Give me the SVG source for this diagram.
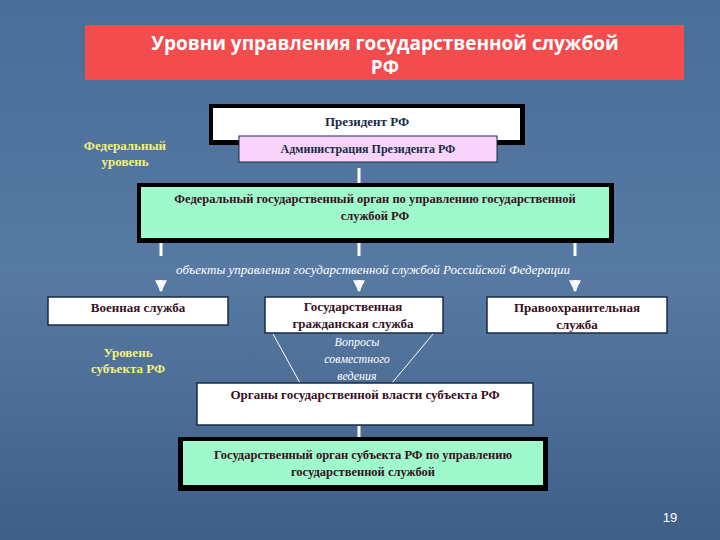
<svg xmlns="http://www.w3.org/2000/svg" width="720" height="540" viewBox="0 0 720 540">
<defs>
<linearGradient id="bg" x1="0" y1="0" x2="0" y2="1">
<stop offset="0" stop-color="#4a6d99"/><stop offset="0.5" stop-color="#577aa3"/><stop offset="1" stop-color="#3f5f89"/>
</linearGradient>
<marker id="ad" viewBox="0 0 10 10" refX="9" refY="5" markerWidth="4" markerHeight="4" orient="auto"><path d="M0,0 L10,5 L0,10 z" fill="#fff"/></marker>
</defs>
<style>
text{font-family:'Liberation Serif','Times New Roman',serif}
.t{font-weight:bold;fill:#3a0f1f;font-size:13px;text-anchor:middle}
.y{font-weight:bold;fill:#f5f07a;font-size:13px;text-anchor:middle}
.i{font-style:italic;fill:#fff;font-size:13px;text-anchor:middle}
.wb{fill:#fff;stroke:#1a2a44;stroke-width:1.5}
.c{stroke:#fff;stroke-width:3;fill:none}
</style>
<rect width="720" height="540" fill="url(#bg)"/>
<g id="title">
<rect x="85" y="25" width="599" height="55" fill="#f24c4e"/>
<text x="385" y="50" style="font-family:'Open Sans',sans-serif" font-weight="bold" font-size="19" fill="#fff" text-anchor="middle">Уровни управления государственной службой</text>
<text x="385" y="74" style="font-family:'Open Sans',sans-serif" font-weight="bold" font-size="19" fill="#fff" text-anchor="middle">РФ</text>
</g>
<g id="connectors">
<line class="c" x1="359" y1="168" x2="359" y2="183"/>
<line class="c" x1="161" y1="243" x2="161" y2="256"/>
<line class="c" x1="359" y1="243" x2="359" y2="256"/>
<line class="c" x1="575" y1="243" x2="575" y2="256"/>
<line class="c" x1="161" y1="280" x2="161" y2="291" marker-end="url(#ad)"/>
<line class="c" x1="359" y1="280" x2="359" y2="291" marker-end="url(#ad)"/>
<line class="c" x1="575" y1="280" x2="575" y2="291" marker-end="url(#ad)"/>
<line stroke="#fff" stroke-width="1" x1="273" y1="334" x2="300" y2="383"/>
<line stroke="#fff" stroke-width="1" x1="433" y1="334" x2="392" y2="383"/>
<line class="c" x1="359" y1="426" x2="359" y2="438"/>
</g>
<g id="president">
<rect x="209" y="104" width="316" height="41" fill="#000"/>
<rect x="213" y="108" width="307" height="32" fill="#fff"/>
<text class="t" x="367" y="126" font-size="14" style="fill:#1a2a4a">Президент РФ</text>
</g>
<g id="admin">
<rect x="239" y="136" width="258" height="26" fill="#f8d4fa" stroke="#1a2a44"/>
<text class="t" x="368" y="153" style="font-size:12px;fill:#1a2a4a">Администрация Президента РФ</text>
</g>
<g id="fed-label">
<text class="y" x="125" y="150">Федеральный</text>
<text class="y" x="125" y="166">уровень</text>
</g>
<g id="fed-organ">
<rect x="137" y="183" width="477" height="60" fill="#000"/>
<rect x="141" y="187" width="468" height="51" fill="#9ef9cc"/>
<text class="t" x="375" y="203" style="font-size:12.5px">Федеральный государственный орган по управлению государственной</text>
<text class="t" x="375" y="220" style="font-size:12.5px">службой РФ</text>
</g>
<g id="objects">
<text class="i" x="373" y="274">объекты управления государственной службой Российской Федерации</text>
</g>
<g id="military">
<rect class="wb" x="48" y="297" width="180" height="28"/>
<text class="t" x="138" y="312">Военная служба</text>
</g>
<g id="civil">
<rect class="wb" x="265" y="297" width="178" height="36"/>
<text class="t" x="353" y="311">Государственная</text>
<text class="t" x="353" y="328">гражданская служба</text>
</g>
<g id="law">
<rect class="wb" x="487" y="297" width="180" height="36"/>
<text class="t" x="577" y="312">Правоохранительная</text>
<text class="t" x="577" y="329">служба</text>
</g>
<g id="joint">
<text class="i" x="357" y="346" style="font-size:12px">Вопросы</text>
<text class="i" x="357" y="363" style="font-size:12px">совместного</text>
<text class="i" x="357" y="380" style="font-size:12px">ведения</text>
</g>
<g id="subj-label">
<text class="y" x="128" y="357">Уровень</text>
<text class="y" x="128" y="373">субъекта РФ</text>
</g>
<g id="organs">
<rect class="wb" x="197" y="383" width="336" height="42"/>
<text class="t" x="365" y="399">Органы государственной власти субъекта РФ</text>
</g>
<g id="subj-organ">
<rect x="178" y="437" width="370" height="54" fill="#000"/>
<rect x="183" y="441" width="360" height="44" fill="#9ef9cc"/>
<text class="t" x="363" y="459" style="font-size:12.5px">Государственный орган субъекта РФ по управлению</text>
<text class="t" x="363" y="476" style="font-size:12.5px">государственной службой</text>
</g>
<text x="670" y="522" style="font-family:'Liberation Sans',sans-serif" font-size="13" fill="#fff" text-anchor="middle">19</text>
</svg>
